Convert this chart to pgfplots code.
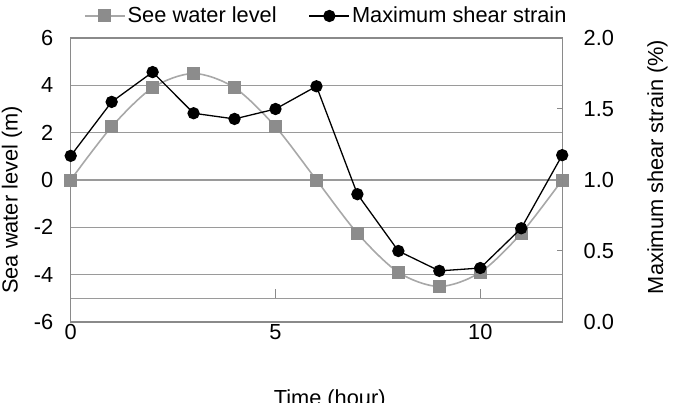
\documentclass[border=0pt]{standalone}
\usepackage{fontspec}
\setmainfont{Liberation Sans}
\usepackage{pgfplots}
\pgfplotsset{compat=1.18}
\definecolor{gridgray}{HTML}{9A9A9A}
\definecolor{framegray}{HTML}{8A8A8A}
\definecolor{levelline}{HTML}{A8A8A8}
\definecolor{levelmark}{HTML}{8C8C8C}

\pgfplotsset{
  common/.style={
    at={(70.7bp,81bp)}, anchor=south west,
    scale only axis, width=491.5bp, height=284bp,
    xmin=0, xmax=12,
    /pgf/number format/assume math mode=true,
    legend image code/.code={%
      \draw[mark repeat=2,mark phase=2] plot coordinates {(0bp,0bp)(20bp,0bp)(40bp,0bp)};},
  },
}

\begin{document}
\fontsize{21.8bp}{26bp}\selectfont
\begin{tikzpicture}
\useasboundingbox (0bp,0bp) rectangle (677bp,403bp);

% sea water level, left axis
\begin{axis}[common,
  ymin=-6, ymax=6,
  xtick={0,5,10}, ytick={-6,-4,...,6},
  extra y ticks={-5}, extra y tick labels={},
  extra y tick style={grid=major},
  ymajorgrids, grid style={gridgray, line width=1.3bp},
  axis line style={framegray, line width=1.3bp},
  major tick length=0pt,
  xticklabel style={inner sep=1bp, yshift=-1bp},
  yticklabel style={xshift=-10bp},
  xlabel={Time (hour)},
  xlabel style={at={(axis description cs:0.527,0)}, anchor=base, yshift=-83bp},
  ylabel={Sea water level (m)},
  ylabel style={at={(axis description cs:-0.1193,0.43)}, anchor=center},
]
\addplot[levelline, line width=1.6bp, smooth, tension=0.5,
  mark=square*, mark size=6bp, mark options={levelmark, fill=levelmark, line width=0bp}]
  coordinates {
  (0,0) (1,2.25) (2,3.9) (3,4.5) (4,3.9) (5,2.25) (6,0)
  (7,-2.25) (8,-3.9) (9,-4.5) (10,-3.9) (11,-2.25) (12,0)};
\draw[framegray, line width=1bp] (axis cs:5,-5) -- (axis cs:5,-4.62);
\draw[framegray, line width=1bp] (axis cs:10,-5) -- (axis cs:10,-4.62);
\end{axis}

% maximum shear strain, right axis
\begin{axis}[common,
  axis x line=none, axis y line*=right,
  ymin=0, ymax=2, ytick={0,0.5,...,2},
  yticklabel style={xshift=14bp, /pgf/number format/.cd, fixed, fixed zerofill, precision=1},
  axis line style={framegray, line width=1.3bp},
  tick style={framegray, line width=1bp},
  tick align=inside, major tick length=5bp,
  ylabel={Maximum shear strain (\%)},
  ylabel style={at={(axis description cs:1.1937,0.546)}, anchor=center},
  legend style={at={(axis description cs:0.520,1.0775)}, anchor=center,
    draw=none, fill=none, legend columns=2,
    /tikz/every even column/.append style={column sep=30bp},
    nodes={inner sep=2bp}},
  legend cell align=left,
]
\addlegendimage{levelline, line width=1.6bp, mark=square*, mark size=6bp,
  mark options={levelmark, fill=levelmark, line width=0bp}}
\addlegendentry{See water level}
\addplot[black, line width=1.3bp, mark=*, mark size=5.5bp]
  coordinates {
  (0,1.17) (1,1.55) (2,1.76) (3,1.47) (4,1.43) (5,1.50) (6,1.66)
  (7,0.90) (8,0.50) (9,0.36) (10,0.38) (11,0.66) (12,1.175)};
\addlegendentry{Maximum shear strain}
\end{axis}
\end{tikzpicture}
\end{document}
